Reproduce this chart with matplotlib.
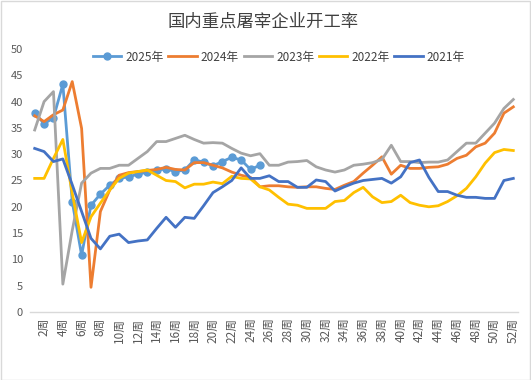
import matplotlib
matplotlib.use("Agg")
import matplotlib.pyplot as plt
from matplotlib.patches import Rectangle

plt.rcParams['font.family'] = ['Noto Sans CJK SC', 'DejaVu Sans']

weeks = list(range(1, 53))
week_labels = [f"{w}周" if w % 2 == 0 else "" for w in weeks]

y2025 = [37.9, 35.8, 36.9, 43.3, 21.0, 10.8, 20.3, 22.4, 24.1, 25.4,
         25.7, 26.2, 26.6, 27.0, 27.2, 26.7, 27.0, 28.9, 28.5, 27.8,
         28.6, 29.4, 28.9, 27.1, 27.9]
y2024 = [37.3, 36.2, 37.5, 38.4, 43.8, 34.9, 4.7, 19.1, 23.2, 26.0,
         26.5, 26.7, 26.9, 27.1, 27.5, 27.1, 27.0, 28.4, 28.4, 27.9,
         27.4, 26.6, 26.0, 25.6, 23.8, 24.0, 24.0, 23.8, 23.7, 23.8,
         23.8, 23.5, 23.3, 24.1, 24.8, 26.4, 27.9, 29.5, 26.2, 27.9,
         27.3, 27.3, 27.5, 27.6, 28.1, 29.2, 29.8, 31.4, 32.1, 34.0,
         37.8, 39.0]
y2023 = [34.6, 40.0, 41.9, 5.3, 15.5, 24.5, 26.4, 27.3, 27.3, 27.9,
         27.9, 29.2, 30.5, 32.4, 32.4, 33.0, 33.6, 32.8, 32.1, 32.2,
         32.1, 31.1, 30.2, 29.7, 30.1, 27.9, 27.9, 28.5, 28.6, 28.8,
         27.6, 27.0, 26.6, 27.0, 27.9, 28.1, 28.4, 29.0, 31.7, 28.6,
         28.6, 28.4, 28.5, 28.5, 28.9, 30.5, 32.1, 32.1, 34.0, 35.9,
         38.7, 40.4]
y2022 = [25.4, 25.4, 29.2, 32.8, 22.6, 13.2, 18.1, 20.7, 23.2, 25.4,
         26.4, 26.7, 27.0, 26.0, 25.0, 24.8, 23.6, 24.3, 24.3, 24.7,
         24.4, 25.8, 25.4, 25.3, 23.8, 23.2, 21.8, 20.5, 20.3, 19.7,
         19.7, 19.7, 21.0, 21.2, 22.7, 23.7, 21.9, 20.8, 21.0, 22.2,
         20.8, 20.3, 20.0, 20.2, 21.0, 22.1, 23.5, 25.7, 28.3, 30.3,
         30.9, 30.7]
y2021 = [31.1, 30.5, 28.6, 29.1, 24.2, 19.1, 14.0, 12.0, 14.4, 14.8,
         13.2, 13.5, 13.7, 15.9, 18.0, 16.1, 18.0, 17.8, 20.2, 22.7,
         23.8, 25.0, 27.4, 25.4, 25.4, 25.9, 24.8, 24.8, 23.7, 23.7,
         25.1, 24.8, 23.0, 23.8, 24.5, 25.0, 25.2, 25.4, 24.5, 25.7,
         28.4, 28.9, 25.6, 22.9, 22.9, 22.2, 21.8, 21.8, 21.6, 21.6,
         25.0, 25.4]

series_names = ["2025年", "2024年", "2023年", "2022年", "2021年"]
series_values = [y2025, y2024, y2023, y2022, y2021]
colors = ["#5B9BD5", "#ED7D31", "#A5A5A5", "#FFC000", "#4472C4"]

W, H = 531, 380
fig = plt.figure(figsize=(W / 100, H / 100), dpi=100)
fig.patches.append(Rectangle((0.001, 0.001), 0.997, 0.996, transform=fig.transFigure,
                             fill=False, edgecolor="#D9D9D9", linewidth=1.0))

ax = fig.add_axes([30 / W, (H - 312) / H, (518 - 30) / W, (312 - 49) / H])

for i, (name, vals, c) in enumerate(zip(series_names, series_values, colors)):
    xs = weeks[:len(vals)]
    if i == 0:
        ax.plot(xs, vals, color=c, lw=2.0, marker='o', markersize=5,
                markerfacecolor=c, markeredgecolor=c, label=name, zorder=2 + i)
    else:
        ax.plot(xs, vals, color=c, lw=2.0, label=name, zorder=2 + i)

ax.set_xlim(0.5, 52.5)
ax.set_ylim(0, 50)
ax.set_yticks(range(0, 51, 5))
ax.set_xticks(weeks)
ax.set_xticklabels(week_labels, rotation=90, fontsize=8.5, color="#595959")
ax.tick_params(axis='x', length=0, pad=4)
ax.tick_params(axis='y', length=0, pad=5, labelsize=8, labelcolor="#595959")
for s in ["top", "right", "left"]:
    ax.spines[s].set_visible(False)
ax.spines["bottom"].set_color("#D9D9D9")
ax.spines["bottom"].set_linewidth(1.0)

fig.text(0.495, 1 - 22 / H, "国内重点屠宰企业开工率", ha="center", va="center",
         fontsize=12.5, color="#404040")

handles, labels = ax.get_legend_handles_labels()
fig.legend(handles, labels, loc="center", bbox_to_anchor=(279 / W, 1 - 57 / H),
           ncol=5, frameon=False, fontsize=8.5, handlelength=2.4,
           handletextpad=0.35, columnspacing=0.4, labelcolor="#404040")

fig.savefig("out.png", dpi=100)
